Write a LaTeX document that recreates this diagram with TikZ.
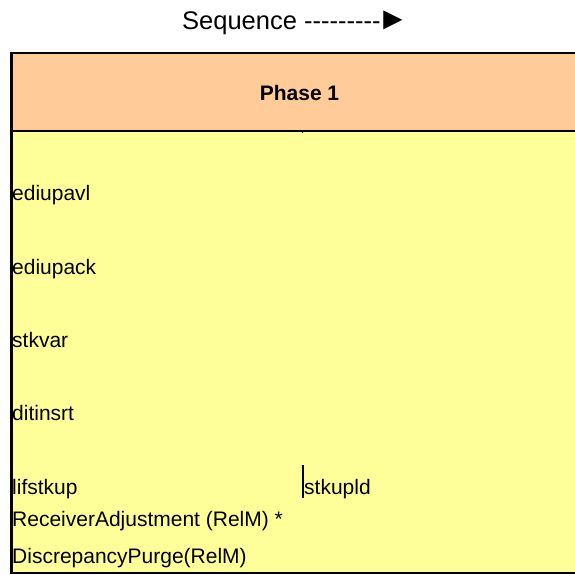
\documentclass[tikz,border=0pt]{standalone}
\usepackage{fontspec}
\setmainfont{Liberation Sans}
\definecolor{hdrfill}{HTML}{FFCC99}
\definecolor{cellfill}{HTML}{FFFF99}
\begin{document}
\begin{tikzpicture}[x=1pt,y=-1pt,
  celltext/.style={anchor=base west, inner sep=0pt, font=\fontsize{21}{25}\selectfont},
  rule/.style={line width=2pt, black}]
\useasboundingbox (0,0) rectangle (575,574);
\fill[white] (0,0) rectangle (575,574);
% header and body cells
\fill[hdrfill] (11,53) rectangle (575,130.5);
\fill[cellfill] (11,130.5) rectangle (575,572.8);
% borders
\draw[rule] (575,53) -- (10,53);
\draw[rule] (575,130.5) -- (11,130.5);
\draw[line width=2.3pt] (575,572.8) -- (10,572.8);
\draw[line width=2.6pt] (11.3,51.9) -- (11.3,574);
% column boundary marks
\draw[line width=1pt] (302.7,131.5) -- (302.7,133.2);
\draw[line width=1.6pt] (302.7,465) -- (302.7,498);
% title
\node[anchor=base west, inner sep=0pt, font=\fontsize{25.5}{30}\selectfont] (seq) at (182,29.3)
  {Sequence -{}-{}-{}-{}-{}-{}-{}-{}-\kern-3.5pt{\fontsize{32}{32}\selectfont ►}};
\node[anchor=base, inner sep=0pt, font=\fontsize{21}{25}\selectfont\bfseries] (phase) at (299.5,100.7) {Phase 1};
% cell entries
\node[celltext] (t1) at (12,200) {ediupavl};
\node[celltext] (t2) at (12,274.3) {ediupack};
\node[celltext] (t3) at (12,347.7) {stkvar};
\node[celltext] (t4) at (12,420.7) {ditinsrt};
\node[celltext] (t5) at (12,494) {lifstkup};
\node[celltext] (t6) at (304,494) {stkupld};
\node[celltext] (t7) at (12,526.7) {ReceiverAdjustment (RelM) *};
\node[celltext] (t8) at (12,563.3) {DiscrepancyPurge(RelM)};
\end{tikzpicture}
\end{document}
